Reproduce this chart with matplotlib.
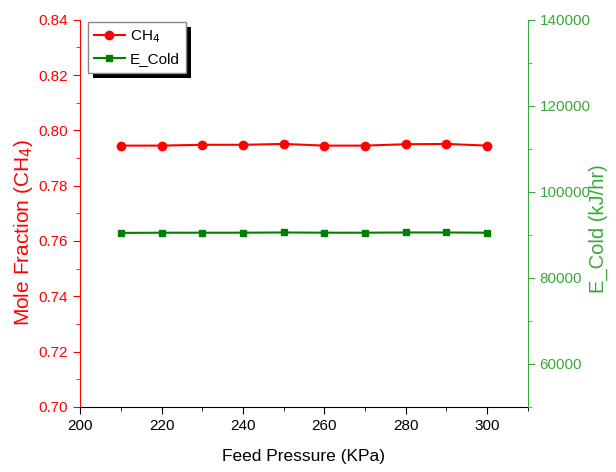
import matplotlib
matplotlib.use("Agg")
import matplotlib.pyplot as plt
from matplotlib.ticker import MultipleLocator, FormatStrFormatter
from matplotlib.patches import Rectangle

plt.rcParams["font.family"] = ["Liberation Sans", "DejaVu Sans"]

# data
pressure = [210, 220, 230, 240, 250, 260, 270, 280, 290, 300]
ch4_frac = [0.7945, 0.7945, 0.7948, 0.7948, 0.7951, 0.7945, 0.7945, 0.7950, 0.7951, 0.7945]
e_cold = [90450, 90500, 90500, 90500, 90550, 90500, 90500, 90550, 90550, 90500]

red = "#ff0000"
green = "#008000"
green_axis = "#3aa83a"

fig = plt.figure(figsize=(6.16, 4.72), dpi=100)
ax = fig.add_axes([0.13, 0.138, 0.727, 0.82])
ax2 = ax.twinx()

l1, = ax.plot(pressure, ch4_frac, color=red, marker="o", markersize=6, linewidth=1.5, label="CH$_4$")
l2, = ax2.plot(pressure, e_cold, color=green, marker="s", markersize=5, linewidth=1.5, label="E_Cold")

ax.set_xlim(200, 310)
ax.set_ylim(0.70, 0.84)
ax2.set_ylim(50000, 140000)
ax.xaxis.set_major_locator(MultipleLocator(20))
ax.xaxis.set_minor_locator(MultipleLocator(10))
ax.yaxis.set_major_locator(MultipleLocator(0.02))
ax.yaxis.set_minor_locator(MultipleLocator(0.01))
ax.yaxis.set_major_formatter(FormatStrFormatter("%.2f"))
ax2.yaxis.set_major_locator(MultipleLocator(20000))
ax2.yaxis.set_minor_locator(MultipleLocator(10000))

for a in (ax, ax2):
    a.spines["top"].set_visible(False)
ax.spines["right"].set_visible(False)
ax.spines["left"].set_color(red)
ax2.spines["left"].set_visible(False)
ax2.spines["right"].set_color(green_axis)
ax2.spines["bottom"].set_visible(False)

ax.tick_params(axis="x", which="both", direction="out", labelsize=11)
ax.tick_params(axis="x", which="major", length=5)
ax.tick_params(axis="x", which="minor", length=3)
ax.tick_params(axis="y", which="both", colors=red, labelsize=11)
ax.tick_params(axis="y", which="major", length=5)
ax.tick_params(axis="y", which="minor", length=3)
ax2.tick_params(axis="y", which="both", colors=green_axis, labelsize=11)
ax2.tick_params(axis="y", which="major", length=5)
ax2.tick_params(axis="y", which="minor", length=3)

ax.set_xlabel("Feed Pressure (KPa)", fontsize=12.5, labelpad=12)
ax.set_ylabel("Mole Fraction (CH$_4$)", color=red, fontsize=15)
ax.yaxis.set_label_coords(-0.1, 0.45)
ax2.set_ylabel("E_Cold (kJ/hr)", color=green_axis, fontsize=14.5)
ax2.yaxis.set_label_coords(1.135, 0.46)

# legend lives on the top axes so the shadow can sit just under it
leg = ax2.legend(handles=[l1, l2], loc="upper left",
                 bbox_to_anchor=(88 / 616, 1 - 22 / 472), bbox_transform=fig.transFigure,
                 borderaxespad=0, fancybox=False, edgecolor="#888888", framealpha=1,
                 fontsize=11, handlelength=2.0, handletextpad=0.35, borderpad=0.4,
                 labelspacing=0.5)
leg.get_frame().set_linewidth(1.0)
leg.set_zorder(10)

# black drop shadow behind the legend box
fig.canvas.draw()
bb = leg.get_window_extent().transformed(fig.transFigure.inverted())
shadow = Rectangle((bb.x0 + 5 / 616, bb.y0 - 5 / 472), bb.width, bb.height,
                   transform=fig.transFigure, facecolor="black", edgecolor="none",
                   zorder=9, clip_on=False)
ax2.add_patch(shadow)

fig.savefig("out.png", dpi=100)
